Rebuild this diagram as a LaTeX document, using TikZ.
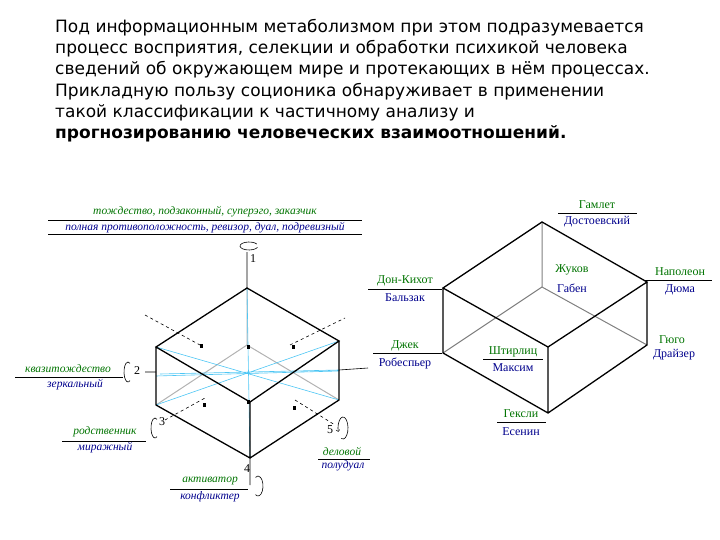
\documentclass[tikz,border=0pt]{standalone}
\usepackage{fontspec}
\setmainfont{Liberation Serif}
\newfontfamily\tf{DejaVu Sans}
\begin{document}
\begin{tikzpicture}[x=1pt,y=-1pt,
 tl/.style={anchor=west,font=\tf\fontsize{17}{19}\selectfont,inner sep=0},
 ed/.style={line width=1.3pt},
 hid/.style={gray,line width=1pt},
 cy/.style={cyan!70,line width=0.6pt},
 ax/.style={line width=0.6pt},
 gt/.style={font=\itshape\fontsize{11.5}{12}\selectfont,text=green!45!black,inner sep=1pt},
 bt/.style={font=\itshape\fontsize{11.5}{12}\selectfont,text=blue!55!black,inner sep=1pt},
 gn/.style={font=\fontsize{12}{13}\selectfont,text=green!45!black,inner sep=1pt},
 bn/.style={font=\fontsize{12}{13}\selectfont,text=blue!55!black,inner sep=1pt},
 ul/.style={line width=0.6pt}]
\useasboundingbox (0,0) rectangle (720,540);
\node[tl] (t1) at (55,28) {Под информационным метаболизмом при этом подразумевается};
\node[tl] (t2) at (55,49) {процесс восприятия, селекции и обработки психикой человека};
\node[tl] (t3) at (55,70) {сведений об окружающем мире и протекающих в нём процессах.};
\node[tl] (t4) at (55,92) {Прикладную пользу соционика обнаруживает в применении};
\node[tl] (t5) at (55,113) {такой классификации к частичному анализу и};
\node[tl,font=\tf\bfseries\fontsize{17}{19}\selectfont] (t6) at (55,134) {прогнозированию человеческих взаимоотношений.};
% left cube
\coordinate (A) at (247,288); \coordinate (L) at (156,347); \coordinate (R) at (339,341);
\coordinate (F) at (250,402); \coordinate (LB) at (156,405); \coordinate (RB) at (339,400);
\coordinate (FB) at (250,458); \coordinate (H) at (247,345); \coordinate (C) at (247,372);
\draw[hid,gray!60] (H)--(LB) (H)--(RB) (H)--(A);
\draw[cy] (LB)--(R) (L)--(RB) (160,374)--(339,370) (A)--(FB) (156,376)--(339,371);
\draw[ax] (247,252)--(A) (FB)--(250,485) (145,372)--(156,372) (339,370)--(368,368);
\draw[ax,dashed] (145,315)--(200,345) (295,400)--(335,425) (165,420)--(205,398) (290,345)--(345,318);
\draw[ed] (A)--(L)--(F)--(R)--cycle (L)--(LB)--(FB)--(RB)--(R) (F)--(FB);
\foreach \p in {(247,345),(200,344),(292,345),(203,403),(293,406),(247,400)} \fill \p rectangle ++(3,4);
\node[font=\fontsize{12}{13}\selectfont] (n1) at (253,259) {1};
\node[font=\fontsize{12}{13}\selectfont] (n2) at (137,371) {2};
\node[font=\fontsize{12}{13}\selectfont] (n3) at (162,422) {3};
\node[font=\fontsize{12}{13}\selectfont] (n4) at (247,469) {4};
\node[font=\fontsize{12}{13}\selectfont] (n5) at (330,430) {5};
\coordinate (c1) at (249,246); \coordinate (c2) at (128,372); \coordinate (c3) at (155,428);
\coordinate (c4) at (258,486); \coordinate (c5) at (343,428);
\draw[ul] ([shift={(20:9 and 4)}]c1) arc (20:330:9 and 4);
\draw[ul] ([shift={(60:4 and 10)}]c2) arc (60:300:4 and 10);
\draw[ul] ([shift={(60:4 and 10)}]c3) arc (60:300:4 and 10);
\draw[ul] ([shift={(120:5 and 10)}]c4) arc (120:-120:5 and 10);
\draw[ul,->] ([shift={(110:5 and 11)}]c5) arc (110:-200:5 and 11);
\node[gt] (a1) at (205,212) {тождество, подзаконный, суперэго, заказчик};
\draw[ul] (48,220)--(362,220);
\node[bt] (b1) at (205,228) {полная противоположность, ревизор, дуал, подревизный};
\draw[ul] (48,234)--(362,234);
\node[gt] (a2) at (68,369) {квазитождество}; \draw[ul] (15,377)--(123,377);
\node[bt] (b2) at (75,385) {зеркальный};
\node[gt] (a3) at (105,432) {родственник}; \draw[ul] (62,441)--(146,441);
\node[bt] (b3) at (105,448) {миражный};
\node[gt] (a5) at (342,451) {деловой}; \draw[ul] (318,459)--(370,459);
\node[bt] (b5) at (343,466) {полудуал};
\node[gt] (a4) at (210,481) {активатор}; \draw[ul] (170,489)--(248,489);
\node[bt] (b4) at (210,497) {конфликтер};
% right cube
\coordinate (P) at (542,222); \coordinate (Q) at (443,288); \coordinate (S) at (647,282);
\coordinate (U) at (548,347); \coordinate (QB) at (443,353); \coordinate (SB) at (647,345);
\coordinate (UB) at (548,413); \coordinate (K) at (542,287);
\draw[hid] (K)--(P) (K)--(QB) (K)--(SB);
\draw[ed] (P)--(Q)--(U)--(S)--cycle (Q)--(QB)--(UB)--(SB)--(S) (U)--(UB);
\node[gn] (g1) at (597,205) {Гамлет}; \draw[ul] (558,213)--(637,213); \node[bn] (h1) at (597,222) {Достоевский};
\node[gn] (g2) at (405,281) {Дон-Кихот}; \draw[ul] (368,289)--(442,289); \node[bn] (h2) at (405,298) {Бальзак};
\node[gn] (g3) at (572,270) {Жуков}; \node[bn] (h3) at (572,288) {Габен};
\node[gn] (g4) at (680,272) {Наполеон}; \draw[ul] (645,280)--(712,280); \node[bn] (h4) at (680,290) {Дюма};
\node[gn] (g5) at (405,346) {Джек}; \draw[ul] (373,353)--(442,353); \node[bn] (h5) at (405,363) {Робеспьер};
\node[gn] (g6) at (513,352) {Штирлиц}; \draw[ul] (483,359)--(543,359); \node[bn] (h6) at (513,368) {Максим};
\node[gn] (g7) at (672,340) {Гюго}; \node[bn] (h7) at (674,355) {Драйзер};
\node[gn] (g8) at (521,414) {Гексли}; \draw[ul] (497,422)--(546,422); \node[bn] (h8) at (521,432) {Есенин};
\end{tikzpicture}
\end{document}
